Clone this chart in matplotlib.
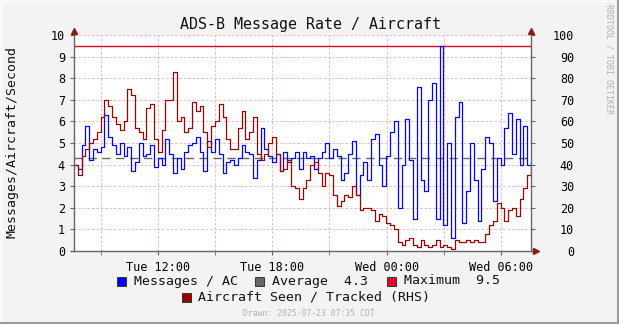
import numpy as np
import pandas as pd
import matplotlib
matplotlib.use('Agg')
import matplotlib.pyplot as plt
import matplotlib.dates as mdates
from matplotlib.patches import Rectangle

W, H = 619, 324
plt.rcParams['font.family'] = ['DejaVu Sans Mono']

# 12-minute samples, Tue 07:35 -> Wed 07:35
times = pd.date_range('2025-07-22 07:35', periods=121, freq='12min')

# messages per aircraft per second
msg_rate = [
    4.0, 3.8, 4.9, 5.8, 4.2, 4.7, 4.6, 4.8, 6.3, 5.3,
    4.9, 4.5, 5.0, 4.4, 4.8, 3.7, 4.1, 5.0, 4.4, 4.5,
    4.9, 3.9, 4.3, 4.0, 5.2, 4.5, 3.6, 4.3, 3.8, 4.6,
    4.9, 5.0, 5.3, 4.6, 3.7, 5.1, 4.6, 5.2, 4.5, 3.6,
    4.1, 4.2, 4.0, 4.3, 4.9, 4.6, 4.5, 3.4, 4.2, 5.7,
    4.7, 4.4, 4.1, 4.5, 3.7, 4.6, 4.1, 4.3, 4.6, 3.8,
    4.6, 4.3, 4.4, 3.8, 4.3, 4.6, 5.0, 4.3, 4.7, 4.4,
    3.3, 3.6, 4.5, 5.1, 2.6, 3.5, 4.1, 3.3, 5.2, 5.4,
    4.0, 3.0, 4.4, 5.5, 6.0, 2.0, 4.0, 6.1, 4.2, 1.5,
    7.6, 3.3, 2.8, 7.0, 7.8, 1.5, 9.5, 1.2, 5.0, 0.6,
    6.2, 6.9, 1.3, 2.8, 5.0, 3.3, 1.4, 3.8, 5.3, 5.0,
    2.3, 4.3, 4.0, 5.7, 6.4, 4.5, 6.1, 4.0, 5.8, 4.0,
    4.1,
]

# aircraft seen / tracked (right-hand scale)
aircraft = [
    40, 35, 44, 47, 50, 52, 55, 62, 70, 67,
    62, 59, 56, 60, 75, 72, 57, 55, 52, 66,
    68, 52, 46, 56, 70, 70, 83, 60, 62, 55,
    57, 69, 65, 67, 55, 48, 58, 60, 68, 62,
    52, 47, 47, 57, 65, 52, 55, 62, 45, 42,
    45, 50, 53, 45, 37, 38, 42, 30, 29, 24,
    29, 33, 40, 41, 36, 30, 36, 35, 26, 21,
    23, 26, 25, 30, 26, 19, 20, 20, 19, 14,
    17, 16, 13, 12, 10, 4, 3, 5, 6, 3,
    2, 5, 3, 2, 3, 5, 2, 3, 2, 1,
    5, 4, 4, 5, 4, 5, 4, 4, 8, 12,
    14, 22, 20, 14, 19, 20, 16, 24, 29, 35,
    40,
]

avg_rate = 4.3
max_rate = 9.5

fig = plt.figure(figsize=(W / 100, H / 100), dpi=100, facecolor='#F3F3F3')


def box(x0, y0, x1, y1):
    return [x0 / W, 1 - y1 / H, (x1 - x0) / W, (y1 - y0) / H]


grid_kw = dict(color='#F6B4B4', ls=(0, (2.5, 2)), lw=0.7)

ax = fig.add_axes(box(74, 35, 531, 251))
ax.set_facecolor('white')
ax.step(times, msg_rate, where='post', color='#0000FF', lw=0.9, zorder=3)
ax.axhline(avg_rate, color='#666666', lw=1.0, ls=(0, (6, 4)), zorder=2)
ax.axhline(max_rate, color='#D4002A', lw=1.0, zorder=2)

ax.set_xlim(times[0], times[-1])
ax.set_ylim(0, 10)
ax.set_yticks(range(0, 11))
ax.xaxis.set_major_locator(mdates.HourLocator(byhour=[0, 6, 12, 18]))
ax.xaxis.set_minor_locator(mdates.HourLocator(byhour=range(0, 24, 3)))
ax.xaxis.set_major_formatter(mdates.DateFormatter('%a %H:%M'))
ax.grid(which='both', axis='x', **grid_kw)
ax.grid(which='major', axis='y', **grid_kw)
ax.tick_params(which='both', length=3, color='#666666', labelsize=8.5)
ax.tick_params(axis='x', pad=4)
for s in ax.spines.values():
    s.set_visible(False)

ax2 = ax.twinx()
ax2.step(times, aircraft, where='post', color='#990000', lw=0.9, zorder=4)
ax2.set_ylim(0, 100)
ax2.set_yticks(range(0, 101, 10))
ax2.tick_params(axis='y', length=3, color='#666666', labelsize=8.5, pad=28)
for lab in ax2.get_yticklabels():
    lab.set_horizontalalignment('right')
for s in ax2.spines.values():
    s.set_visible(False)

# overlay in pixel units for axes lines, arrows, legend and frame
ov = fig.add_axes([0, 0, 1, 1])
ov.set_xlim(0, W)
ov.set_ylim(H, 0)
ov.axis('off')
ov.patch.set_alpha(0)

axis_col = '#666666'
arrow_col = '#8B1A1A'
ov.plot([74, 74], [251, 31], color=axis_col, lw=1.0)
ov.plot([531, 531], [251, 31], color=axis_col, lw=1.0)
ov.plot([71, 536], [251, 251], color=axis_col, lw=1.0)
ov.plot([74], [31], marker='^', color=arrow_col, ms=4.5)
ov.plot([531], [31], marker='^', color=arrow_col, ms=4.5)
ov.plot([536], [251], marker='>', color=arrow_col, ms=4.5)

# frame
ov.plot([0, W], [0.5, 0.5], color='white', lw=1.0)
ov.plot([0.5, 0.5], [0, H], color='white', lw=1.0)
ov.plot([0, W], [H - 1, H - 1], color='#9A9A9A', lw=1.5)
ov.plot([W - 1, W - 1], [0, H], color='#9A9A9A', lw=1.5)

fig.text(310 / W, 1 - 24 / H, 'ADS-B Message Rate / Aircraft', ha='center', va='center',
         fontsize=10.8, color='#111111')
fig.text(12 / W, 1 - 142 / H, 'Messages/Aircraft/Second', ha='center', va='center',
         rotation=90, fontsize=9.5, color='#111111')
fig.text(609 / W, 1 - 59 / H, 'RRDTOOL / TOBI OETIKER', ha='center', va='center',
         rotation=270, fontsize=6, color='#B0B0B0')
fig.text(309 / W, 1 - 313 / H, 'Drawn: 2025-07-23 07:35 CDT', ha='center', va='center',
         fontsize=5.8, color='#B0B0B0')

legend_items = [
    (117, 281, '#0000FF', 'Messages / AC'),
    (255, 281, '#666666', f'Average {avg_rate:4.1f}'),
    (387, 281, '#E8002A', f'Maximum {max_rate:4.1f}'),
    (181.5, 297, '#990000', 'Aircraft Seen / Tracked (RHS)'),
]
for x0, yc, col, label in legend_items:
    ov.add_patch(Rectangle((x0, yc - 4.5), 9, 9, facecolor=col, edgecolor='#222222', lw=0.6))
    ov.text(x0 + 16.5, yc, label, va='center', ha='left', fontsize=9.5, color='#111111')

fig.savefig('out.png', dpi=100, facecolor=fig.get_facecolor())
